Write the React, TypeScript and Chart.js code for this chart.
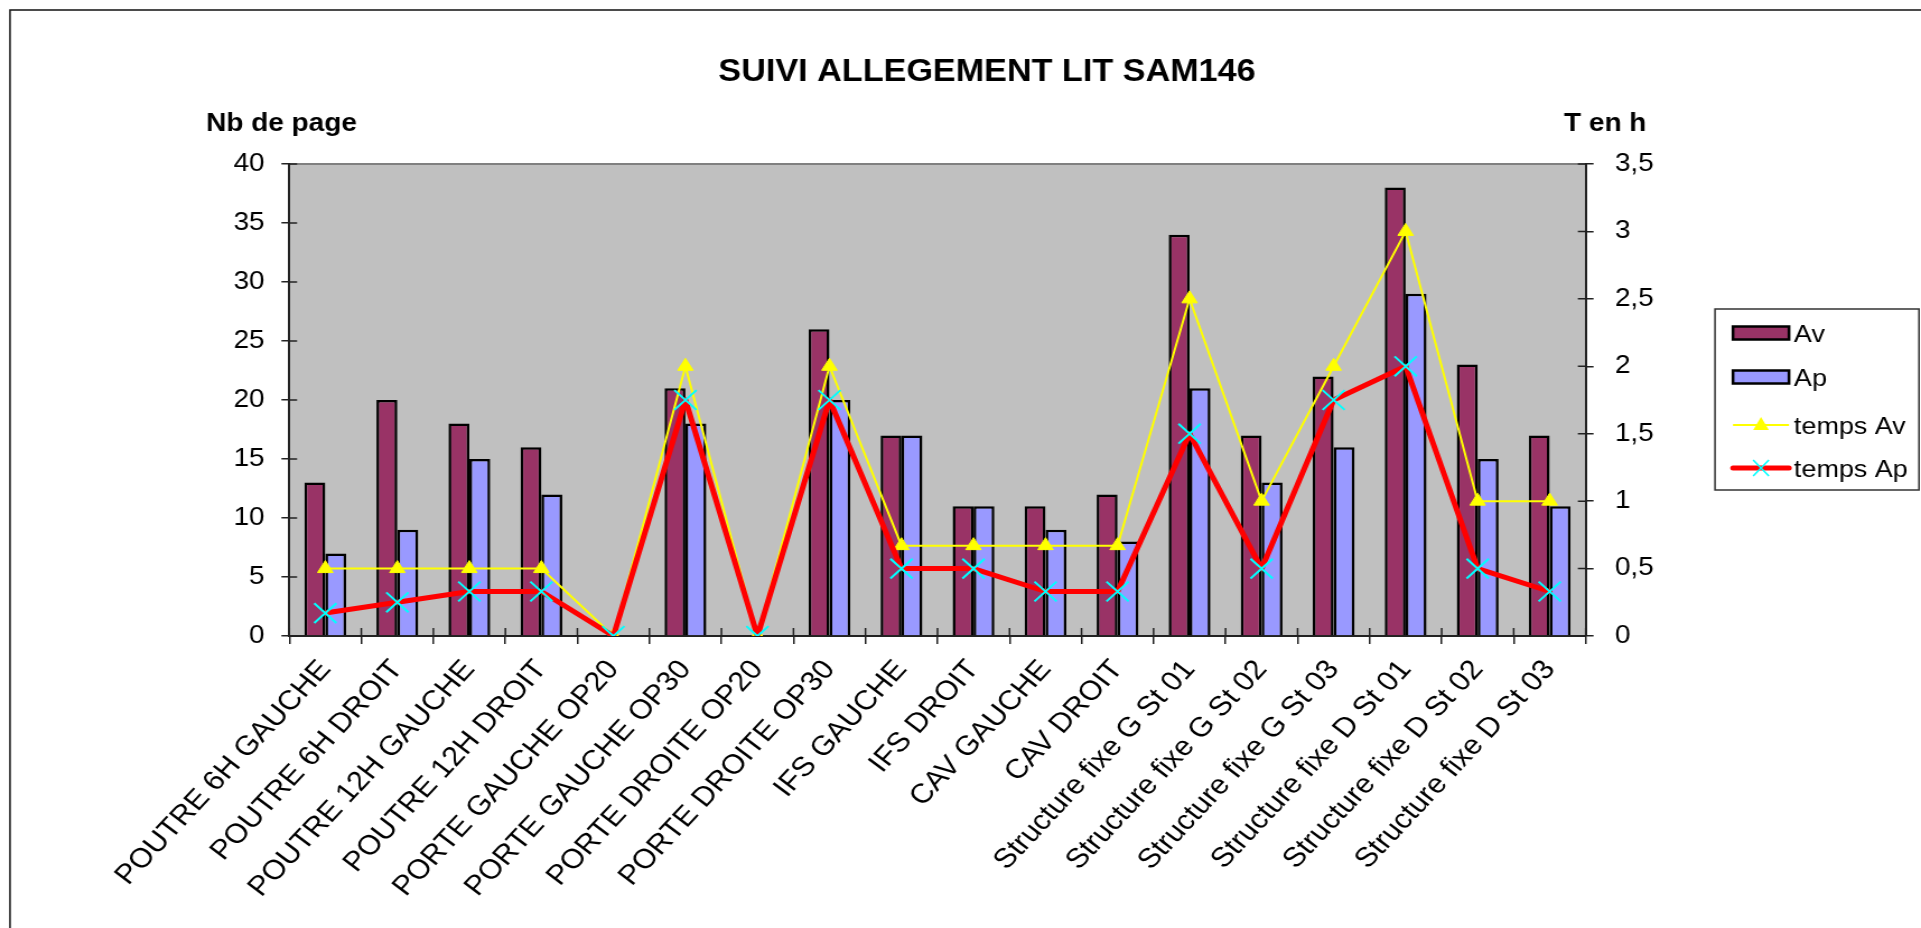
import React, { useEffect, useRef } from "react";
import { Chart, registerables } from "chart.js";

Chart.register(...registerables);

// Canvas is drawn at a logical width and stretched horizontally, as the reference is.
const FULL_W = 1921;
const LOGICAL_W = 1715;
const H = 928;
const SX = FULL_W / LOGICAL_W;

const FONT = '"Liberation Sans", Arial, Helvetica, sans-serif';

const chartTitle = "SUIVI ALLEGEMENT LIT SAM146";
const leftAxisTitle = "Nb de page";
const rightAxisTitle = "T en h";

const categories = [
  "POUTRE 6H GAUCHE",
  "POUTRE 6H DROIT",
  "POUTRE 12H GAUCHE",
  "POUTRE 12H DROIT",
  "PORTE GAUCHE OP20",
  "PORTE GAUCHE OP30",
  "PORTE DROITE OP20",
  "PORTE DROITE OP30",
  "IFS GAUCHE",
  "IFS DROIT",
  "CAV GAUCHE",
  "CAV DROIT",
  "Structure fixe G St 01",
  "Structure fixe G St 02",
  "Structure fixe G St 03",
  "Structure fixe D St 01",
  "Structure fixe D St 02",
  "Structure fixe D St 03",
];

const avValues = [13, 20, 18, 16, 0, 21, 0, 26, 17, 11, 11, 12, 34, 17, 22, 38, 23, 17];
const apValues = [7, 9, 15, 12, 0, 18, 0, 20, 17, 11, 9, 8, 21, 13, 16, 29, 15, 11];
const tempsAvValues = [0.5, 0.5, 0.5, 0.5, 0, 2, 0, 2, 0.67, 0.67, 0.67, 0.67, 2.5, 1, 2, 3, 1, 1];
const tempsApValues = [0.17, 0.25, 0.33, 0.33, 0, 1.75, 0, 1.75, 0.5, 0.5, 0.33, 0.33, 1.5, 0.5, 1.75, 2, 0.5, 0.33];

const leftTickValues = [0, 5, 10, 15, 20, 25, 30, 35, 40];
const rightTickValues = [0, 0.5, 1, 1.5, 2, 2.5, 3, 3.5];
const rightTickLabels = ["0", "0,5", "1", "1,5", "2", "2,5", "3", "3,5"];

const seriesLabels = ["Av", "Ap", "temps Av", "temps Ap"];
const AV_COLOR = "#993366";
const AP_COLOR = "#9999FF";
const TAV_COLOR = "#FFFF00";
const TAP_COLOR = "#FF0000";
const CROSS_COLOR = "#00FFFF";

const X = (fullX: number) => fullX / SX;

const decorPlugin = {
  id: "decor",
  beforeDraw(chart: any) {
    const { ctx, chartArea: a } = chart;
    ctx.save();
    ctx.fillStyle = "#C0C0C0";
    ctx.fillRect(a.left, a.top, a.right - a.left, a.bottom - a.top);
    ctx.strokeStyle = "#808080";
    ctx.lineWidth = 2;
    ctx.beginPath();
    ctx.moveTo(a.left, a.top);
    ctx.lineTo(a.right, a.top);
    ctx.stroke();
    // outer frame
    ctx.strokeStyle = "#111";
    ctx.lineWidth = 1.5;
    ctx.strokeRect(X(10), 10, LOGICAL_W + 50, H + 50);
    ctx.restore();
  },
  beforeDatasetsDraw(chart: any) {
    const { ctx, chartArea: a, scales } = chart;
    ctx.save();
    ctx.strokeStyle = "#222";
    ctx.lineWidth = 1.5;
    ctx.beginPath();
    const xs = scales.x;
    for (let i = 0; i <= categories.length; i++) {
      const px = xs.getPixelForValue(i - 0.5);
      ctx.moveTo(px, a.bottom);
      ctx.lineTo(px, a.bottom - 8);
    }
    scales.y.ticks.forEach((t: any) => {
      const py = scales.y.getPixelForValue(t.value);
      ctx.moveTo(a.left, py);
      ctx.lineTo(a.left + 7, py);
    });
    scales.y1.ticks.forEach((t: any) => {
      const py = scales.y1.getPixelForValue(t.value);
      ctx.moveTo(a.right, py);
      ctx.lineTo(a.right - 7, py);
    });
    ctx.stroke();
    ctx.restore();
  },
  afterDraw(chart: any) {
    const { ctx } = chart;
    ctx.save();
    ctx.fillStyle = "#000";
    ctx.textBaseline = "alphabetic";
    // title
    ctx.font = `bold 30.5px ${FONT}`;
    ctx.textAlign = "center";
    ctx.fillText(chartTitle, X(987), 81);
    // axis titles
    ctx.font = `bold 25px ${FONT}`;
    ctx.textAlign = "left";
    ctx.fillText(leftAxisTitle, X(206), 131);
    ctx.fillText(rightAxisTitle, X(1564), 131);

    // legend
    const bx = X(1715);
    const by = 309;
    const bw = X(1919) - bx;
    const bh = 490 - 309;
    ctx.fillStyle = "#FFFFFF";
    ctx.fillRect(bx, by, bw, bh);
    ctx.strokeStyle = "#333";
    ctx.lineWidth = 1.5;
    ctx.strokeRect(bx, by, bw, bh);

    const sx0 = X(1733);
    const sx1 = X(1789);
    const sxm = (sx0 + sx1) / 2;
    const tx = X(1794);
    const ys = [333, 377, 425, 468];
    const ds = chart.data.datasets;

    // bar swatches
    [0, 1].forEach((i) => {
      ctx.fillStyle = ds[i].backgroundColor;
      ctx.fillRect(sx0, ys[i] - 6.5, sx1 - sx0, 13);
      ctx.strokeStyle = "#000";
      ctx.lineWidth = 2.5;
      ctx.strokeRect(sx0, ys[i] - 6.5, sx1 - sx0, 13);
    });
    // temps Av
    ctx.strokeStyle = TAV_COLOR;
    ctx.lineWidth = 2;
    ctx.beginPath();
    ctx.moveTo(sx0, ys[2]);
    ctx.lineTo(sx1, ys[2]);
    ctx.stroke();
    ctx.fillStyle = TAV_COLOR;
    ctx.beginPath();
    ctx.moveTo(sxm, ys[2] - 8);
    ctx.lineTo(sxm + 7, ys[2] + 5);
    ctx.lineTo(sxm - 7, ys[2] + 5);
    ctx.closePath();
    ctx.fill();
    // temps Ap
    ctx.strokeStyle = TAP_COLOR;
    ctx.lineWidth = 5;
    ctx.lineCap = "round";
    ctx.beginPath();
    ctx.moveTo(sx0, ys[3]);
    ctx.lineTo(sx1, ys[3]);
    ctx.stroke();
    ctx.lineCap = "butt";
    ctx.strokeStyle = CROSS_COLOR;
    ctx.lineWidth = 1.5;
    ctx.beginPath();
    ctx.moveTo(sxm - 7, ys[3] - 8);
    ctx.lineTo(sxm + 7, ys[3] + 8);
    ctx.moveTo(sxm + 7, ys[3] - 8);
    ctx.lineTo(sxm - 7, ys[3] + 8);
    ctx.stroke();

    ctx.fillStyle = "#000";
    ctx.font = `24px ${FONT}`;
    ctx.textAlign = "left";
    seriesLabels.forEach((lbl, i) => {
      ctx.fillText(lbl, tx, ys[i] + 8.5);
    });
    ctx.restore();
  },
};

export default function App() {
  const canvasRef = useRef<HTMLCanvasElement | null>(null);

  useEffect(() => {
    const canvas = canvasRef.current;
    if (!canvas) return;
    const chart = new Chart(canvas, {
      type: "bar",
      data: {
        labels: categories,
        datasets: [
          {
            type: "bar",
            label: seriesLabels[0],
            data: avValues,
            backgroundColor: AV_COLOR,
            borderColor: "#000",
            borderWidth: 2.5,
            yAxisID: "y",
            order: 3,
            categoryPercentage: 0.58,
            barPercentage: 1,
          },
          {
            type: "bar",
            label: seriesLabels[1],
            data: apValues,
            backgroundColor: AP_COLOR,
            borderColor: "#000",
            borderWidth: 2.5,
            yAxisID: "y",
            order: 4,
            categoryPercentage: 0.58,
            barPercentage: 1,
          },
          {
            type: "line",
            label: seriesLabels[2],
            data: tempsAvValues,
            borderColor: TAV_COLOR,
            backgroundColor: TAV_COLOR,
            borderWidth: 2,
            pointStyle: "triangle",
            pointRadius: 8,
            pointBackgroundColor: TAV_COLOR,
            pointBorderColor: TAV_COLOR,
            pointBorderWidth: 1,
            tension: 0,
            yAxisID: "y1",
            order: 2,
          },
          {
            type: "line",
            label: seriesLabels[3],
            data: tempsApValues,
            borderColor: TAP_COLOR,
            backgroundColor: CROSS_COLOR,
            borderWidth: 5,
            borderJoinStyle: "round",
            borderCapStyle: "round",
            pointStyle: "crossRot",
            pointRadius: 14,
            pointBorderColor: CROSS_COLOR,
            pointBorderWidth: 2,
            tension: 0,
            yAxisID: "y1",
            order: 1,
          },
        ] as any,
      },
      options: {
        animation: false,
        responsive: false,
        devicePixelRatio: 1,
        layout: { padding: { top: 164, left: 0, right: 0, bottom: 0 } },
        plugins: {
          legend: { display: false },
          title: { display: false },
          tooltip: { enabled: false },
        },
        scales: {
          x: {
            type: "category",
            offset: true,
            grid: {
              display: true,
              offset: true,
              drawOnChartArea: false,
              drawTicks: true,
              tickLength: 8,
              color: "#222",
              lineWidth: 1.5,
            },
            border: { display: true, color: "#222", width: 2 },
            ticks: {
              autoSkip: false,
              minRotation: 50,
              maxRotation: 50,
              padding: 10,
              color: "#000",
              font: { family: FONT, size: 27.5 },
            },
            afterFit: (s: any) => {
              s.height = 292;
            },
          },
          y: {
            position: "left",
            min: 0,
            max: 40,
            afterBuildTicks: (s: any) => {
              s.ticks = leftTickValues.map((v) => ({ value: v }));
            },
            ticks: {
              padding: 15,
              color: "#000",
              font: { family: FONT, size: 25 },
            },
            grid: {
              drawOnChartArea: false,
              drawTicks: true,
              tickLength: 7,
              color: "#222",
              lineWidth: 1.5,
            },
            border: { display: true, color: "#222", width: 2 },
            afterFit: (s: any) => {
              s.width = X(289.3);
            },
          },
          y1: {
            position: "right",
            min: 0,
            max: 3.5,
            afterBuildTicks: (s: any) => {
              s.ticks = rightTickValues.map((v) => ({ value: v }));
            },
            ticks: {
              padding: 19,
              color: "#000",
              font: { family: FONT, size: 25 },
              callback: (_v: any, i: number) => rightTickLabels[i],
            },
            grid: {
              drawOnChartArea: false,
              drawTicks: true,
              tickLength: 7,
              color: "#222",
              lineWidth: 1.5,
            },
            border: { display: true, color: "#222", width: 2 },
            afterFit: (s: any) => {
              s.width = LOGICAL_W - X(1585.7);
            },
          },
        },
      } as any,
      plugins: [decorPlugin],
    });
    return () => chart.destroy();
  }, []);

  return (
    <div style={{ position: "fixed", left: 0, top: 0, width: FULL_W, height: H, background: "#fff" }}>
      <canvas
        ref={canvasRef}
        width={LOGICAL_W}
        height={H}
        style={{ width: `${FULL_W}px`, height: `${H}px`, display: "block" }}
      />
    </div>
  );
}
